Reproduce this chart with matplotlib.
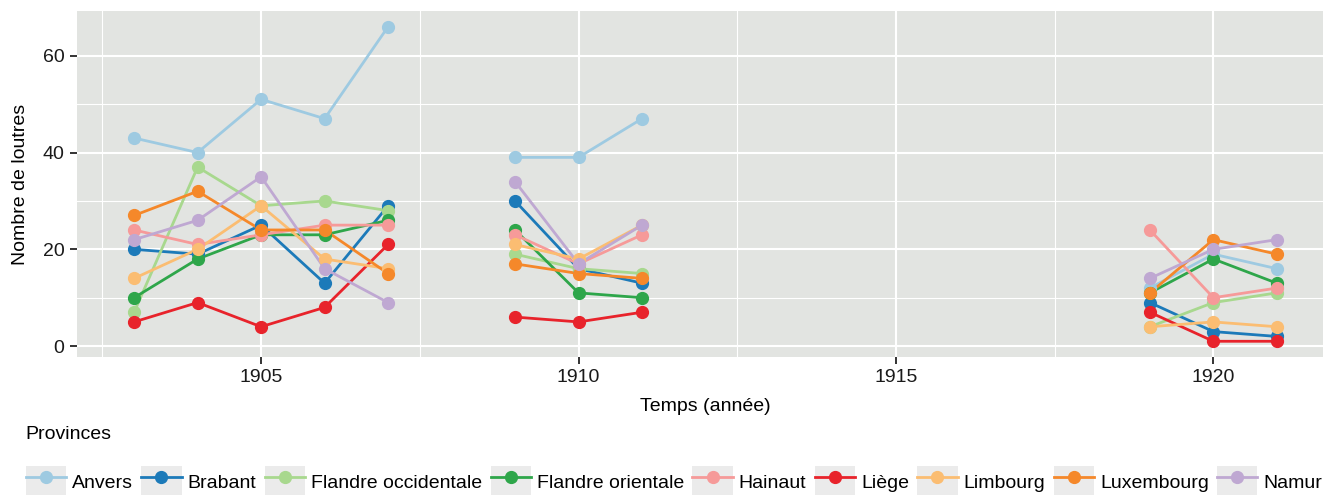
import numpy as np
import matplotlib.pyplot as plt
from matplotlib.patches import Rectangle
from matplotlib.legend_handler import HandlerLine2D
from matplotlib.ticker import MultipleLocator

nan = np.nan
years = [1903, 1904, 1905, 1906, 1907, 1908, 1909, 1910, 1911,
         1912, 1913, 1914, 1915, 1916, 1917, 1918, 1919, 1920, 1921]
gap = [nan] * 7

anvers = [43, 40, 51, 47, 66, nan, 39, 39, 47] + gap + [12, 19, 16]
brabant = [20, 19, 25, 13, 29, nan, 30, 16, 13] + gap + [9, 3, 2]
fl_occ = [7, 37, 29, 30, 28, nan, 19, 16, 15] + gap + [4, 9, 11]
fl_ori = [10, 18, 23, 23, 26, nan, 24, 11, 10] + gap + [11, 18, 13]
hainaut = [24, 21, 23, 25, 25, nan, 23, 17, 23] + gap + [24, 10, 12]
liege = [5, 9, 4, 8, 21, nan, 6, 5, 7] + gap + [7, 1, 1]
limbourg = [14, 20, 29, 18, 16, nan, 21, 18, 25] + gap + [4, 5, 4]
luxembourg = [27, 32, 24, 24, 15, nan, 17, 15, 14] + gap + [11, 22, 19]
namur = [22, 26, 35, 16, 9, nan, 34, 17, 25] + gap + [14, 20, 22]

provinces = ["Anvers", "Brabant", "Flandre occidentale", "Flandre orientale",
             "Hainaut", "Liège", "Limbourg", "Luxembourg", "Namur"]
series = [anvers, brabant, fl_occ, fl_ori, hainaut, liege, limbourg, luxembourg, namur]
colors = ["#9ecae1", "#1c7ab9", "#a8d88e", "#2ea64a", "#f69a99",
          "#e8232b", "#fbbd72", "#f5882a", "#bfa8d2"]

plt.rcParams['font.family'] = ['Liberation Sans', 'DejaVu Sans']


class KeyHandler(HandlerLine2D):
    def create_artists(self, legend, orig_handle, xdescent, ydescent,
                       width, height, fontsize, trans):
        bg = Rectangle((-xdescent, -ydescent), width, height,
                       facecolor='#ebebeb', edgecolor='none', transform=trans)
        arts = super().create_artists(legend, orig_handle, xdescent, ydescent,
                                      width, height, fontsize, trans)
        return [bg] + list(arts)


W, H = 1323, 495
fig = plt.figure(figsize=(W / 100, H / 100), dpi=100)
ax = fig.add_axes([77 / W, (H - 357) / H, 1257 / W, 346 / H])
ax.set_facecolor('#e2e4e1')
for s in ax.spines.values():
    s.set_visible(False)

handles = []
for name, vals, c in zip(provinces, series, colors):
    ax.plot(years, vals, color=c, lw=2, zorder=2)
for name, vals, c in zip(provinces, series, colors):
    ax.plot(years, vals, 'o', color=c, ms=8.5, zorder=3)
    h, = plt.plot([], [], '-o', color=c, lw=2, ms=8.5)
    handles.append(h)

ax.set_xlim(1902.1, 1921.9)
ax.set_ylim(-2.25, 69.25)
ax.xaxis.set_major_locator(MultipleLocator(5))
ax.xaxis.set_minor_locator(MultipleLocator(2.5))
ax.yaxis.set_major_locator(MultipleLocator(20))
ax.yaxis.set_minor_locator(MultipleLocator(10))
ax.grid(which='major', color='white', lw=1.5, zorder=0)
ax.grid(which='minor', color='white', lw=0.8, zorder=0)
ax.set_axisbelow(True)
ax.tick_params(which='major', length=5, width=1.4, color='#333333',
               labelsize=14, labelcolor='#1a1a1a', pad=4)
ax.tick_params(which='minor', length=0)

ax.set_xlabel("Temps (année)", fontsize=14, labelpad=8)
ax.set_ylabel("Nombre de loutres", fontsize=14, labelpad=10)

leg = fig.legend(handles, provinces, loc='upper left',
                 bbox_to_anchor=(16 / W, (H - 416) / H),
                 ncol=9, frameon=False, fontsize=14, title="Provinces",
                 title_fontsize=14, alignment='left', borderpad=0,
                 handlelength=2.07, handleheight=2.07, handletextpad=0.32,
                 columnspacing=0.42, labelspacing=1.2, numpoints=1,
                 handler_map={plt.Line2D: KeyHandler()})

fig.savefig("out.png", dpi=100)
